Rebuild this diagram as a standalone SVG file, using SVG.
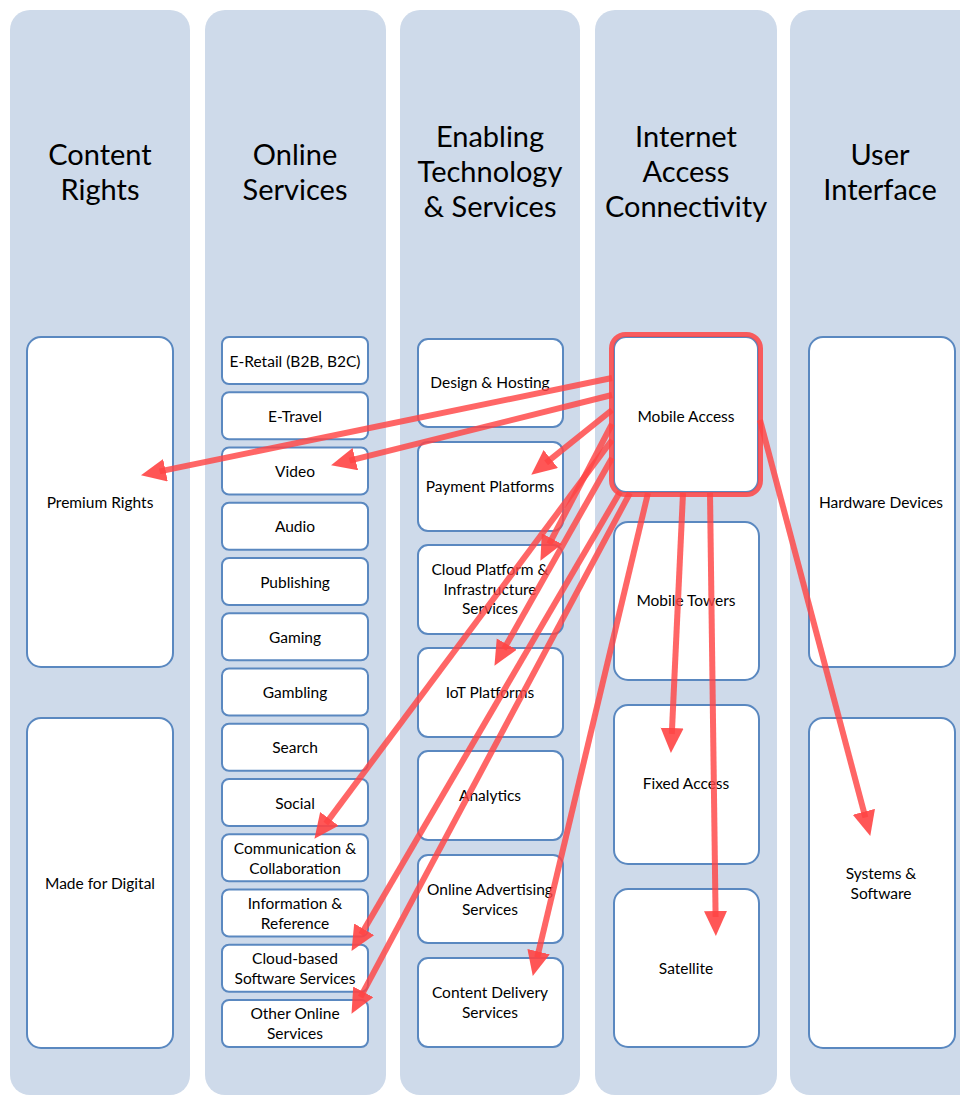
<svg xmlns="http://www.w3.org/2000/svg" width="960" height="1095" viewBox="0 0 960 1095">
<defs>
<style>
.panel{fill:#cedaea;}
.hdr{font-family:Lato,"Liberation Sans",sans-serif;font-size:29px;fill:#000;text-anchor:middle;}
.box{fill:#fff;stroke:#5a88c0;stroke-width:2;}
.lbl{font-family:Lato,"Liberation Sans",sans-serif;font-size:15.5px;fill:#000;text-anchor:middle;dominant-baseline:central;}
.arr{stroke:#ff4444;stroke-opacity:0.82;stroke-width:6;fill:none;marker-end:url(#ah);}
</style>
<marker id="ah" markerUnits="userSpaceOnUse" markerWidth="26" markerHeight="24" refX="6" refY="11.5" orient="auto">
<path d="M0,0 L25,11.5 L0,23 z" fill="#ff4444" fill-opacity="0.9"/>
</marker>
</defs>
<rect x="0" y="0" width="960" height="1095" fill="#fff"/>
<g id="columns">
<rect class="panel" x="10" y="10" width="180" height="1085" rx="20"/>
<rect class="panel" x="205" y="10" width="181" height="1085" rx="20"/>
<rect class="panel" x="400" y="10" width="180" height="1085" rx="20"/>
<rect class="panel" x="595" y="10" width="182" height="1085" rx="20"/>
<rect class="panel" x="790" y="10" width="190" height="1085" rx="20"/>
<text class="hdr" x="100" y="165">Content</text>
<text class="hdr" x="100" y="200">Rights</text>
<text class="hdr" x="295" y="165">Online</text>
<text class="hdr" x="295" y="200">Services</text>
<text class="hdr" x="490" y="147">Enabling</text>
<text class="hdr" x="490" y="182">Technology</text>
<text class="hdr" x="490" y="217">&amp; Services</text>
<text class="hdr" x="686" y="147">Internet</text>
<text class="hdr" x="686" y="182">Access</text>
<text class="hdr" x="686" y="217">Connectivity</text>
<text class="hdr" x="880" y="165">User</text>
<text class="hdr" x="880" y="200">Interface</text>
</g>
<g id="n-premium"><rect class="box" x="27" y="337" width="146" height="330" rx="14"/><text class="lbl" x="100" y="502">Premium Rights</text></g>
<g id="n-madefordigital"><rect class="box" x="27" y="718" width="146" height="330" rx="14"/><text class="lbl" x="100" y="883">Made for Digital</text></g>
<g id="n-eretail"><rect class="box" x="222" y="337" width="146" height="47" rx="7"/><text class="lbl" x="295" y="360.5">E-Retail (B2B, B2C)</text></g>
<g id="n-etravel"><rect class="box" x="222" y="392.25" width="146" height="47" rx="7"/><text class="lbl" x="295" y="415.75">E-Travel</text></g>
<g id="n-video"><rect class="box" x="222" y="447.5" width="146" height="47" rx="7"/><text class="lbl" x="295" y="471">Video</text></g>
<g id="n-audio"><rect class="box" x="222" y="502.75" width="146" height="47" rx="7"/><text class="lbl" x="295" y="526.25">Audio</text></g>
<g id="n-publishing"><rect class="box" x="222" y="558" width="146" height="47" rx="7"/><text class="lbl" x="295" y="581.5">Publishing</text></g>
<g id="n-gaming"><rect class="box" x="222" y="613.25" width="146" height="47" rx="7"/><text class="lbl" x="295" y="636.75">Gaming</text></g>
<g id="n-gambling"><rect class="box" x="222" y="668.5" width="146" height="47" rx="7"/><text class="lbl" x="295" y="692">Gambling</text></g>
<g id="n-search"><rect class="box" x="222" y="723.75" width="146" height="47" rx="7"/><text class="lbl" x="295" y="747.25">Search</text></g>
<g id="n-social"><rect class="box" x="222" y="779" width="146" height="47" rx="7"/><text class="lbl" x="295" y="802.5">Social</text></g>
<g id="n-communication"><rect class="box" x="222" y="834.25" width="146" height="47" rx="7"/><text class="lbl" x="295" y="847.5">Communication &amp;</text><text class="lbl" x="295" y="867.5">Collaboration</text></g>
<g id="n-information"><rect class="box" x="222" y="889.5" width="146" height="47" rx="7"/><text class="lbl" x="295" y="903">Information &amp;</text><text class="lbl" x="295" y="923">Reference</text></g>
<g id="n-cloudbased"><rect class="box" x="222" y="944.75" width="146" height="47" rx="7"/><text class="lbl" x="295" y="958">Cloud-based</text><text class="lbl" x="295" y="978">Software Services</text></g>
<g id="n-otheronline"><rect class="box" x="222" y="1000" width="146" height="47" rx="7"/><text class="lbl" x="295" y="1013">Other Online</text><text class="lbl" x="295" y="1033">Services</text></g>
<g id="n-design"><rect class="box" x="418" y="339" width="145" height="88" rx="10"/><text class="lbl" x="490" y="382">Design &amp; Hosting</text></g>
<g id="n-payment"><rect class="box" x="418" y="442" width="145" height="89" rx="10"/><text class="lbl" x="490" y="486">Payment Platforms</text></g>
<g id="n-cloudplatform"><rect class="box" x="418" y="545" width="145" height="89" rx="10"/><text class="lbl" x="490" y="569">Cloud Platform &amp;</text><text class="lbl" x="490" y="589">Infrastructure</text><text class="lbl" x="490" y="608">Services</text></g>
<g id="n-iot"><rect class="box" x="418" y="648" width="145" height="89" rx="10"/><text class="lbl" x="490" y="692">IoT Platforms</text></g>
<g id="n-analytics"><rect class="box" x="418" y="751" width="145" height="89" rx="10"/><text class="lbl" x="490" y="795">Analytics</text></g>
<g id="n-advertising"><rect class="box" x="418" y="855" width="145" height="88" rx="10"/><text class="lbl" x="490" y="889">Online Advertising</text><text class="lbl" x="490" y="909">Services</text></g>
<g id="n-contentdelivery"><rect class="box" x="418" y="958" width="145" height="89" rx="10"/><text class="lbl" x="490" y="992">Content Delivery</text><text class="lbl" x="490" y="1012">Services</text></g>
<g id="n-mobileaccess"><rect class="box" x="614" y="337" width="144" height="155" rx="12"/><rect x="611.5" y="334.5" width="149" height="160" rx="14" fill="none" stroke="#ff4444" stroke-opacity="0.85" stroke-width="5"/><text class="lbl" x="686" y="416">Mobile Access</text></g>
<g id="n-mobiletowers"><rect class="box" x="614" y="522" width="145" height="158" rx="14"/><text class="lbl" x="686" y="600">Mobile Towers</text></g>
<g id="n-fixed"><rect class="box" x="614" y="705" width="145" height="159" rx="14"/><text class="lbl" x="686" y="783">Fixed Access</text></g>
<g id="n-satellite"><rect class="box" x="614" y="889" width="145" height="158" rx="14"/><text class="lbl" x="686" y="968">Satellite</text></g>
<g id="n-hardware"><rect class="box" x="809" y="337" width="146" height="330" rx="14"/><text class="lbl" x="881" y="502">Hardware Devices</text></g>
<g id="n-systems"><rect class="box" x="809" y="718" width="146" height="330" rx="14"/><text class="lbl" x="881" y="873">Systems &amp;</text><text class="lbl" x="881" y="893">Software</text></g>
<g id="connectors">
<line class="arr" x1="612" y1="378" x2="159.6" y2="471.4"/>
<line class="arr" x1="612" y1="395" x2="349.5" y2="460.6"/>
<line class="arr" x1="612" y1="410" x2="546.1" y2="462.8"/>
<line class="arr" x1="612" y1="424" x2="549.2" y2="544"/>
<line class="arr" x1="612" y1="440" x2="325.8" y2="823.6"/>
<line class="arr" x1="612" y1="458" x2="503.8" y2="649.3"/>
<line class="arr" x1="620" y1="492" x2="361.1" y2="934.5"/>
<line class="arr" x1="630" y1="493" x2="360.5" y2="997.1"/>
<line class="arr" x1="648" y1="493" x2="537.2" y2="957.5"/>
<line class="arr" x1="683" y1="493" x2="671.8" y2="734"/>
<line class="arr" x1="710" y1="493" x2="715.6" y2="917"/>
<line class="arr" x1="760" y1="420" x2="865.4" y2="817.6"/>
</g>
</svg>
